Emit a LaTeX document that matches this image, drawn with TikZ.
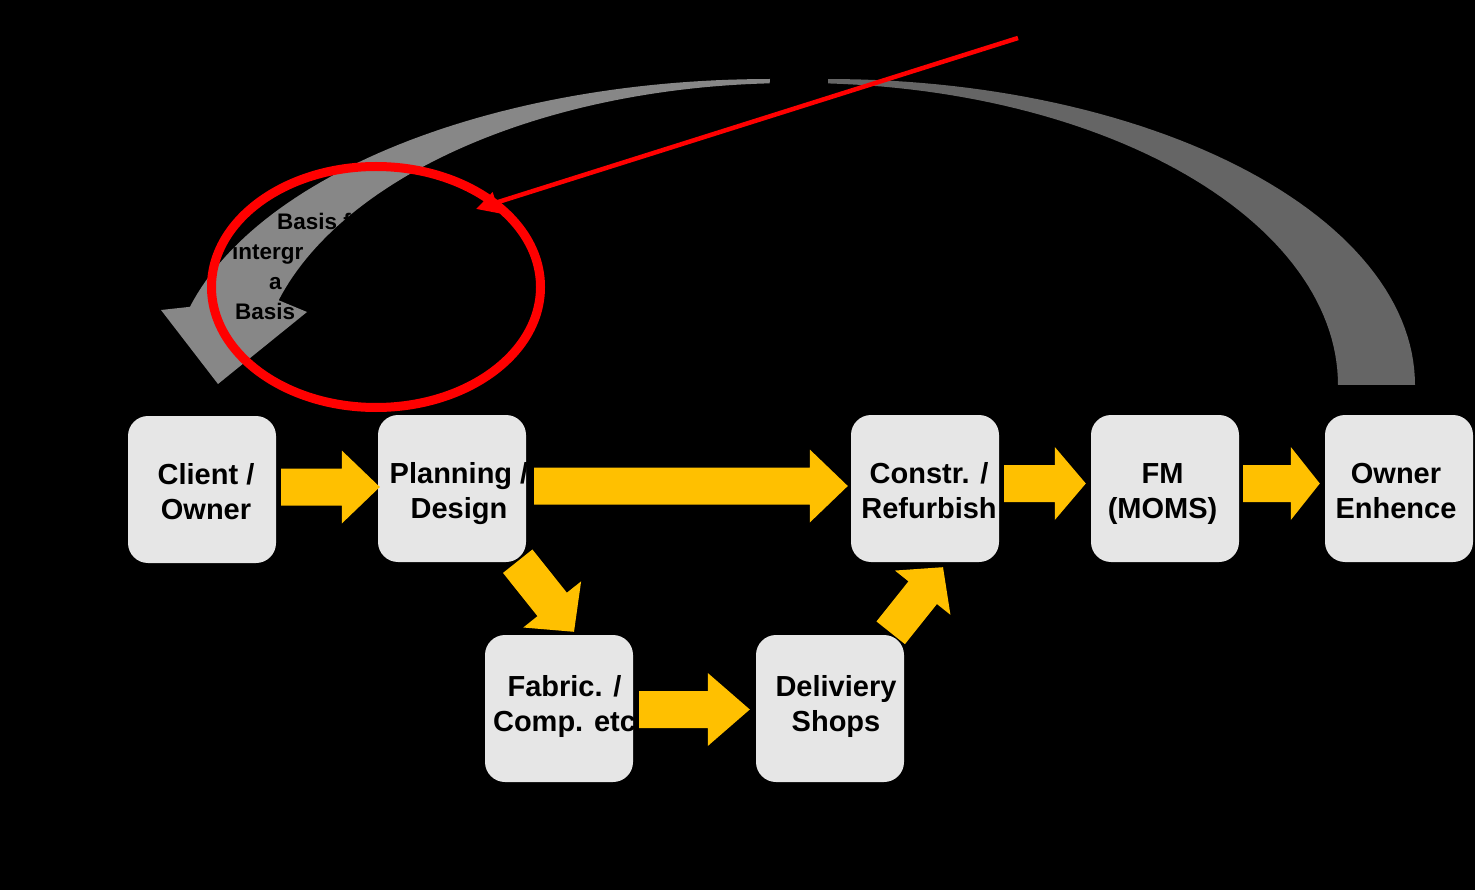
\documentclass[tikz,border=0pt]{standalone}
\usepackage{fontspec}
\setmainfont{Liberation Sans}
\usetikzlibrary{calc,shapes.geometric,arrows.meta}
\definecolor{yfill}{HTML}{FFC000}
\definecolor{boxgray}{HTML}{E6E6E6}
\definecolor{bandlight}{HTML}{878787}
\definecolor{banddark}{HTML}{656565}
\definecolor{redline}{HTML}{FF0000}
% block arrow: #1 tail centre, #2 tip, #3 half shaft width, #4 half head width, #5 head length
\newcommand\yarrow[5]{%
  \coordinate (ya-hb) at ($(#2)!#5!(#1)$);
  \fill[yfill] ($(#1)!#3!90:(#2)$) -- ($(ya-hb)!#3!90:(#2)$) -- ($(ya-hb)!#4!90:(#2)$)
    -- (#2) -- ($(ya-hb)!#4!-90:(#2)$) -- ($(ya-hb)!#3!-90:(#2)$) -- ($(#1)!#3!-90:(#2)$) -- cycle;}
% two-line box label with fixed line boxes; #1 = horizontal offset (twice the shift), #2 = raise
\newcommand\boxline[3]{\makebox[0pt]{\hspace*{#1}\raisebox{#2}[25pt][0pt]{#3}}}
\newcommand\twol[4][0pt]{\boxline{#2}{#1}{#3}\\\boxline{#2}{#1}{#4}}
\begin{document}
\begin{tikzpicture}[x=1pt,y=-1pt,
  box/.style={fill=boxgray, rounded corners=20pt, minimum width=148pt, minimum height=147pt,
    inner sep=0pt, align=center, font=\fontsize{29}{35}\selectfont\bfseries, text=black},
  note/.style={anchor=base west, font=\fontsize{22.5}{27}\selectfont\bfseries, text=black, inner sep=0pt},
  redring/.style={draw=redline, line width=9pt, ellipse, inner sep=0pt},
  redarrow/.style={draw=redline, line width=4.5pt, -{Triangle[length=21pt,width=21pt]}}]
\useasboundingbox (0,0) rectangle (1475,890);
\fill[black] (0,0) rectangle (1475,890);

% grey curved feedback arrow (right part)
\fill[banddark] plot[domain=0:90,samples=60] ({828+587*cos(\x)},{385-306*sin(\x)})
  -- plot[domain=87:0,samples=60] ({800+538*cos(\x)},{385-302*sin(\x)}) -- cycle;
% grey curved feedback arrow (left part with head)
\fill[bandlight] plot[domain=90:165.2,samples=60] ({770+600*cos(\x)},{385-306*sin(\x)})
  -- (161,310) -- (218,384) -- (307,312)
  -- plot[domain=163.7:92.6,samples=60] ({794+537*cos(\x)},{385-302*sin(\x)}) -- cycle;

% text on the grey arrow
\node[note] (n1) at (277,230) {Basis f};
\node[note] (n2) at (232,260) {intergr};
\node[note] (n3) at (269,290) {a};
\node[note] (n4) at (235,320) {Basis};

% red annotation
\node[redring, minimum width=329pt, minimum height=241pt] (ring) at (376,287) {};
\coordinate (rtail) at (1018,38);
\coordinate (rtip) at (476,209);
\draw[redarrow] (rtail) -- (rtip);

% process boxes
\node[box] (client) at (202,489.5) {\twol{8pt}{Client /}{Owner}};
\node[box] (plan)   at (452,488.5) {\twol{14pt}{Planning /}{Design}};
\node[box] (constr) at (925,488.5) {\twol{8pt}{Constr. /}{Refurbish}};
\node[box] (fm)     at (1165,488.5) {\twol{-5pt}{FM}{(MOMS)}};
\node[box] (owner)  at (1399,488.5) {\twol{-6pt}{Owner}{Enhence}};
\node[box] (fabric) at (559,708.5) {\twol[7pt]{11pt}{Fabric. /}{Comp. etc}};
\node[box] (deliv)  at (830,708.5) {\twol[7pt]{12pt}{Deliviery}{Shops}};

% yellow block arrows
\coordinate (a1s) at ($(client.east)+(5,-2.5)$);  \coordinate (a1e) at ($(plan.west)+(2,-1.5)$);
\coordinate (a2s) at ($(plan.east)+(8,-2.5)$);    \coordinate (a2e) at ($(constr.west)+(-3,-2.5)$);
\coordinate (a3s) at ($(constr.east)+(5,-5)$);    \coordinate (a3e) at ($(fm.west)+(-5,-5)$);
\coordinate (a4s) at ($(fm.east)+(4,-5)$);        \coordinate (a4e) at ($(owner.west)+(-5,-5)$);
\coordinate (a5s) at ($(fabric.east)+(6,1)$);     \coordinate (a5e) at ($(deliv.west)+(-6,1)$);
\coordinate (a6s) at ($(plan.south east)+(-8.5,-1)$); \coordinate (a6e) at ($(fabric.north)+(15,-3)$);
\coordinate (a7s) at ($(deliv.north east)+(-13.5,-2)$); \coordinate (a7e) at ($(constr.south)+(18,5)$);
\yarrow{a1s}{a1e}{18.5pt}{36.5pt}{38pt}
\yarrow{a2s}{a2e}{18.5pt}{36.5pt}{38pt}
\yarrow{a3s}{a3e}{18.5pt}{36.5pt}{31pt}
\yarrow{a4s}{a4e}{18.5pt}{36.5pt}{29pt}
\yarrow{a5s}{a5e}{18.5pt}{36.5pt}{42pt}
\yarrow{a6s}{a6e}{18.8pt}{37pt}{35pt}
\yarrow{a7s}{a7e}{18.2pt}{35.5pt}{32.6pt}
\end{tikzpicture}
\end{document}
